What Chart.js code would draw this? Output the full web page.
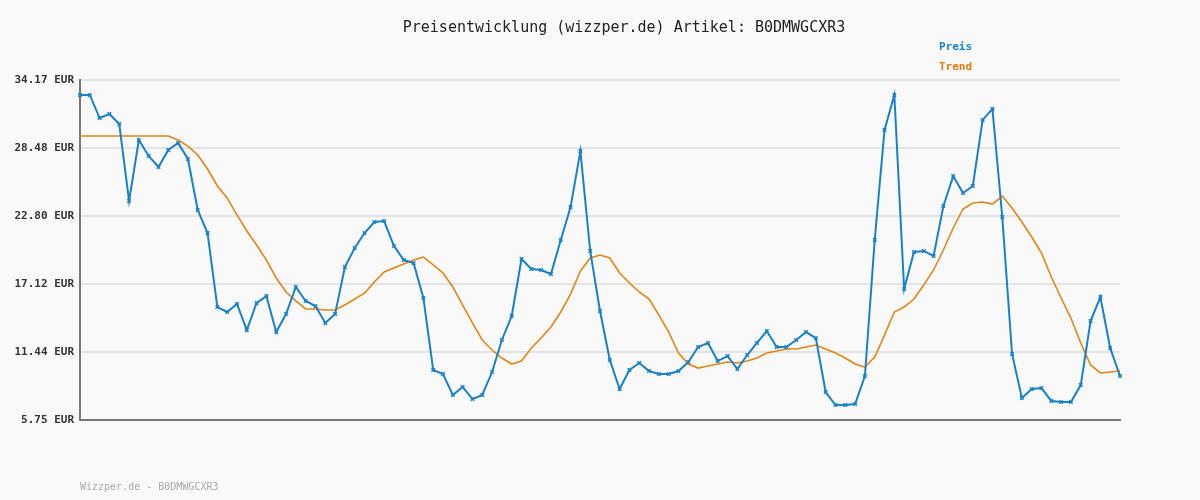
<!DOCTYPE html>
<html><head><meta charset="utf-8">
<script src="https://cdn.jsdelivr.net/npm/chart.js@4"></script>
<style>html,body{margin:0;padding:0;background:#f9f9f9}#wrap{width:1200px;height:500px}</style>
</head><body><div id="wrap"><canvas id="c" width="1200" height="500"></canvas></div>
<script>
const titleText = "Preisentwicklung (wizzper.de) Artikel: B0DMWGCXR3";
const footerText = "Wizzper.de - B0DMWGCXR3";
const tickValues = [5.75, 11.44, 17.12, 22.80, 28.48, 34.17];
const preis = [32.92,32.92,30.99,31.33,30.49,24.06,29.15,27.82,26.90,28.32,28.90,27.57,23.30,21.38,15.19,14.78,15.45,13.27,15.53,16.11,13.10,14.61,16.87,15.70,15.28,13.86,14.61,18.54,20.13,21.38,22.30,22.38,20.29,19.12,18.87,15.95,9.93,
9.59,7.84,8.51,7.50,7.84,9.76,12.44,14.44,19.21,18.37,18.29,17.95,20.80,23.55,28.23,19.88,14.86,10.76,8.34,9.93,10.51,9.84,9.59,9.59,9.84,10.60,11.85,12.19,10.68,11.10,10.01,11.18,12.19,13.19,11.85,11.85,12.44,13.10,12.60,8.09,7.00,7.00,7.09,9.43,20.80,29.99,32.92,16.70,19.79,19.88,19.46,23.64,26.14,24.72,25.31,30.83,31.75,22.72,11.27,7.59,8.34,8.42,7.34,7.25,7.25,8.67,14.02,16.03,11.77,9.43];
const trend = [29.49,29.49,29.49,29.49,29.49,29.49,29.49,29.49,29.49,29.49,29.15,28.65,27.90,26.73,25.31,24.31,22.89,21.55,20.38,19.12,17.62,16.45,15.70,15.03,15.03,14.94,14.94,15.36,15.86,16.36,17.28,18.12,18.45,18.79,19.12,19.37,18.71,
18.04,16.87,15.36,13.86,12.44,11.60,10.93,10.43,10.68,11.77,12.60,13.52,14.78,16.28,18.20,19.29,19.54,19.29,18.04,17.20,16.45,15.86,14.53,13.10,11.35,10.43,10.09,10.26,10.43,10.60,10.51,10.68,10.93,11.35,11.52,11.68,11.68,11.85,12.02,11.68,11.35,10.93,10.43,10.18,11.02,12.85,14.78,15.19,15.86,17.03,18.29,19.96,21.80,23.39,23.89,23.97,23.80,24.47,23.47,22.30,21.05,19.71,17.70,15.95,14.27,12.19,10.35,9.68,9.76,9.84];
const labels = preis.map((_, i) => String(i + 1));
const mono = "'DejaVu Sans Mono', monospace";

const deco = {
  id: 'deco',
  beforeDraw(chart) {
    const ctx = chart.ctx;
    ctx.save();
    ctx.fillStyle = '#f9f9f9';
    ctx.fillRect(0, 0, chart.width, chart.height);
    ctx.restore();
  },
  afterDraw(chart) {
    const ctx = chart.ctx;
    ctx.save();
    ctx.font = "15px " + mono;
    ctx.fillStyle = '#222';
    ctx.textAlign = 'center';
    ctx.textBaseline = 'middle';
    ctx.fillText(titleText, 624, 28);
    ctx.font = "bold 11px " + mono;
    ctx.textAlign = 'left';
    ctx.fillStyle = '#1a80c8';
    ctx.fillText('Preis', 939, 47);
    ctx.fillStyle = '#e07c10';
    ctx.fillText('Trend', 939, 67);
    ctx.font = "10px " + mono;
    ctx.fillStyle = '#aaa';
    ctx.fillText(footerText, 80, 487);
    ctx.restore();
  }
};

new Chart(document.getElementById('c'), {
  type: 'line',
  data: {
    labels,
    datasets: [
      { label: 'Preis', data: preis, borderColor: '#1a80c8', backgroundColor: '#1a80c8', borderWidth: 2,
        pointStyle: 'crossRot', pointRadius: 2.5, pointBorderWidth: 1.5, tension: 0, order: 1 },
      { label: 'Trend', data: trend, borderColor: '#e08516', borderWidth: 1.6, pointRadius: 0, tension: 0, order: 2 }
    ]
  },
  options: {
    responsive: false, animation: false,
    layout: { padding: { left: 0, right: 80, top: 80, bottom: 80 } },
    plugins: { legend: { display: false }, title: { display: false }, tooltip: { enabled: false } },
    scales: {
      x: { offset: false, ticks: { display: false }, grid: { display: false, drawTicks: false },
           border: { display: true, color: '#777', width: 2 },
           afterFit(s) { s.height = 0; } },
      y: { min: 5.75, max: 34.17,
           afterBuildTicks(s) { s.ticks = tickValues.map(v => ({ value: v })); },
           afterFit(s) { s.width = 80; },
           ticks: { callback: v => Number(v).toFixed(2) + ' EUR', font: { family: mono, size: 11, weight: 'bold' }, color: '#333', padding: 6 },
           grid: { color: '#e3e3e3', lineWidth: 2, drawTicks: false },
           border: { display: true, color: '#777', width: 2 } }
    }
  },
  plugins: [deco]
});
</script></body></html>
